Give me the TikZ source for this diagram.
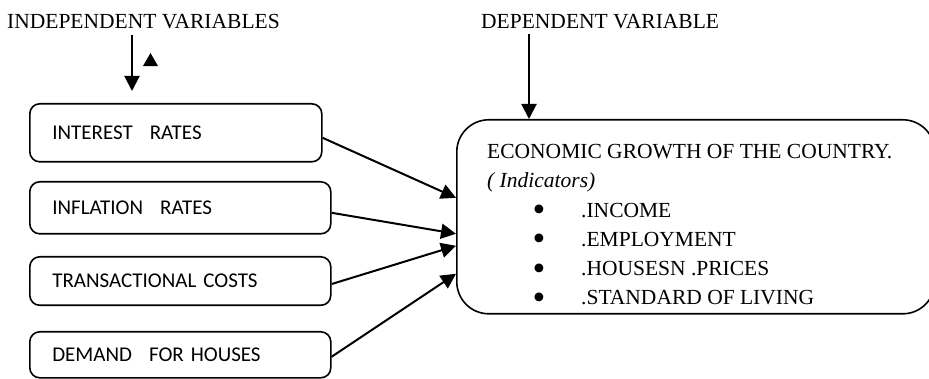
\documentclass[tikz,border=0pt]{standalone}
\usepackage{fontspec}
\setmainfont{Liberation Serif}
\newfontfamily\boxfont{Carlito}
\usepackage{graphicx}
\usepackage{tikz}
\usetikzlibrary{positioning}
\usetikzlibrary{arrows.meta}
\usetikzlibrary{shapes.geometric}
\newcommand{\bigdot}{\makebox[94pt][l]{\hspace*{45.5pt}\raisebox{-4.5pt}[0pt][0pt]{\scalebox{1.7}{\textbullet}}}}

\begin{document}
\begin{tikzpicture}[x=1pt, y=1pt,
        >={Triangle[length=15pt, width=15pt]},
        head/.style = {font=\fontsize{21.5}{25}\selectfont, inner sep=0pt},
        varbox/.style = {draw, rounded corners=10pt, line width=1.6pt, anchor=north west,
                         inner xsep=22.5pt, inner ysep=0pt, align=left,
                         font=\boxfont\fontsize{21}{25}\selectfont},
        growthbox/.style = {draw, rounded corners=32pt, line width=1.6pt, anchor=north west,
                         minimum width=478pt, minimum height=194pt, inner sep=0pt},
        link/.style = {->, line width=2pt}
        ]
        \useasboundingbox (0,0) rectangle (929,-379);
        \clip (0,0) rectangle (929,-379);
        % headings
        \node[head, anchor=base west] (indep) at (7,-29) {INDEPENDENT VARIABLES};
        \node[head, anchor=base west] (dep) at (481,-28.5) {DEPENDENT VARIABLE};
        \node[regular polygon, regular polygon sides=3, fill, inner sep=0pt,
              minimum size=17.3pt] (tri) at (150.5,-61.7) {};
        % independent variables
        \node[varbox, text width=247pt, minimum height=58pt] (interest) at (29,-103) {INTEREST\hspace{17pt}RATES};
        \node[varbox, text width=256pt, minimum height=52pt] (inflation) at (29,-181) {INFLATION\hspace{17pt}RATES};
        \node[varbox, text width=256pt, minimum height=48.5pt] (costs) at (29,-256) {TRANSACTIONAL COSTS};
        \node[varbox, text width=256pt, minimum height=46pt] (demand) at (29,-331) {DEMAND\hspace{17pt}FOR HOUSES};
        % dependent variable
        \node[growthbox] (growth) at (456,-119) {};
        \node[head, anchor=base west, align=left,
              font=\fontsize{21.5}{29.3}\selectfont] (growthtext) at (487,-305)
             {ECONOMIC GROWTH OF THE COUNTRY.\\
              \textit{( Indicators)}\\
              \bigdot.INCOME\\
              \bigdot.EMPLOYMENT\\
              \bigdot.HOUSESN .PRICES\\
              \bigdot.STANDARD OF LIVING};
        \coordinate (indtop) at (132,-35);
        \coordinate (indtip) at (132,-91);
        \coordinate (deptop) at (529,-34);
        \draw[link] (indtop) -- (indtip);
        \draw[link] (deptop) -- (deptop |- growth.north);
        \draw[link] ([yshift=-5pt]interest.east) -- ([yshift=19pt]growth.west);
        \draw[link] ([yshift=-5pt]inflation.east) -- ([yshift=-17pt]growth.west);
        \draw[link] ([yshift=-3pt]costs.east) -- ([yshift=-29pt]growth.west);
        \draw[link] ([yshift=-2pt]demand.east) -- ([yshift=-57pt]growth.west);
\end{tikzpicture}
\end{document}
